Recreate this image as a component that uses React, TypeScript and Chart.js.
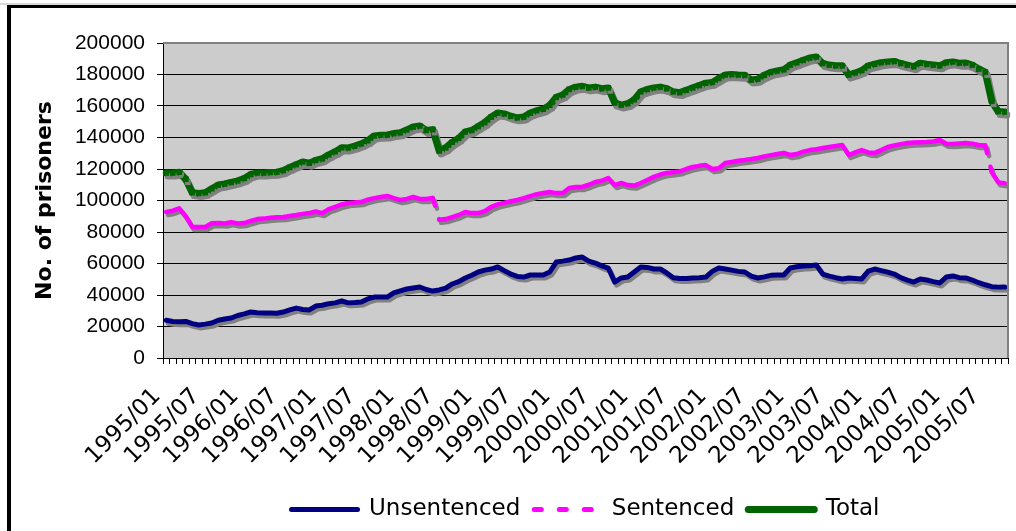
import React, { useEffect, useRef } from "react";
import { Chart, registerables } from "chart.js";

Chart.register(...registerables);

// Categories: monthly, 1995/01 .. 2005/10
const months: string[] = [];
for (let y = 1995; y <= 2005; y++) {
  for (let m = 1; m <= 12; m++) {
    if (y === 2005 && m > 10) break;
    months.push(`${y}/${String(m).padStart(2, "0")}`);
  }
}

const seriesNames = ["Unsentenced", "Sentenced", "Total"];

const unsentenced = [
  24000, 23200, 23000, 23200, 21800, 21000, 21500, 22200, 24000, 24800, 25400, 27000,
  28000, 29200, 28800, 28600, 28600, 28400, 29200, 30500, 31700, 30800, 30500, 33000,
  33500, 34500, 35000, 36200, 35000, 35200, 35600, 37500, 38700, 38800, 38700, 41300,
  42600, 43800, 44500, 45100, 43500, 42500, 43200, 44400, 47000, 48500, 50800, 52500,
  54600, 55800, 56500, 57800, 55500, 53300, 51800, 51400, 52700, 52700, 52700, 54600,
  60900, 61500, 62200, 63500, 64100, 61500, 60300, 58500, 57100, 48200, 50800, 51400,
  54600, 57800, 57500, 56500, 56500, 54000, 51000, 50500, 50500, 50800, 51000, 51400,
  55000, 57100, 56500, 55800, 55000, 54600, 52000, 50800, 51500, 52500, 52700, 52700,
  57100, 58000, 58400, 58600, 59000, 53300, 52000, 51000, 50200, 50800, 50500, 50200,
  55200, 56500, 55500, 54500, 53300, 51000, 49500, 48200, 50200, 49500, 48500, 47600,
  51400, 52100, 51000, 50800, 49500, 47800, 46500, 45300, 45000, 45100,
];

const sentenced = [
  92700, 93500, 95000, 90000, 83200, 83200, 83200, 85500, 85700, 85400, 86300, 85400,
  85700, 87000, 88200, 88500, 89000, 89300, 89500, 90200, 90800, 91500, 92000, 93000,
  92000, 94500, 96000, 97500, 98400, 98700, 99000, 100500, 101500, 102200, 102900, 101500,
  100300, 101000, 102200, 101000, 101000, 101600, 87800, 88200, 89500, 90800, 92700, 92000,
  92000, 93300, 96000, 97500, 98500, 99500, 100300, 101500, 102800, 104000, 104800, 105400,
  104700, 104800, 107900, 108600, 108600, 110000, 111700, 112500, 114300, 109800, 111100, 109800,
  109500, 111100, 113000, 115000, 116500, 117500, 118000, 118500, 120000, 121300, 122000, 122500,
  120000, 120500, 123800, 124500, 125200, 125700, 126300, 127000, 128000, 128800, 129500, 130200,
  128900, 129500, 131000, 132000, 132500, 133300, 134000, 134600, 135200, 128900, 130500, 132000,
  130500, 130200, 132000, 134000, 135000, 135800, 136500, 136800, 137000, 137100, 137500, 138400,
  136000, 135900, 136200, 136500, 136000, 135200, 135000, 118000, 111500, 111000,
];

const total = [
  117500, 117500, 118000, 113500, 105000, 104500, 105000, 107500, 109800, 110500, 111500, 112500,
  114000, 116500, 117500, 117500, 117800, 118000, 119000, 121000, 122800, 124500, 123700, 125500,
  126500, 129000, 131000, 133500, 133400, 134500, 136000, 138000, 141000, 141500, 141600, 142500,
  143000, 144800, 146700, 147300, 144500, 145000, 131500, 133500, 137000, 139500, 143500, 144500,
  147000, 149500, 153000, 155500, 155000, 153500, 152500, 153000, 155500, 157000, 158000, 160500,
  165500, 167000, 170500, 172000, 172500, 171500, 172000, 171000, 171500, 162000, 160600, 161500,
  164000, 169000, 170500, 171500, 172000, 171000, 169000, 168500, 170000, 171500, 173000, 174500,
  175000, 177500, 179700, 180000, 179700, 179500, 176500, 177000, 179500, 181300, 182200, 183000,
  186000, 187500, 189000, 190500, 191100, 187000, 186000, 185500, 185500, 179700, 181000, 182500,
  185500, 186500, 187500, 188000, 188300, 187000, 186000, 185000, 187200, 186500, 186000, 185500,
  187500, 188000, 187200, 187300, 186000, 183500, 181500, 163000, 156500, 156200,
];

const yTicksMax = 200000;
const yTickStep = 20000;

const NAVY = "#000080";
const MAGENTA = "#ff00ff";
const GREEN = "#006400";

const framePlugin = {
  id: "frame",
  beforeDraw(chart: any) {
    const { ctx, chartArea } = chart;
    const { left, top, right, bottom } = chartArea;
    ctx.save();
    ctx.fillStyle = "#ffffff";
    ctx.fillRect(0, 0, chart.width, chart.height);
    ctx.fillStyle = "#d8d8d8";
    ctx.fillRect(0, 3, chart.width, 2);
    ctx.fillStyle = "#000000";
    ctx.fillRect(7, 5, chart.width - 7, 3);
    ctx.fillRect(7, 5, 4, chart.height - 5);
    ctx.fillStyle = "#cccccc";
    ctx.fillRect(left, top, right - left, bottom - top);
    ctx.restore();
  },
  afterDraw(chart: any) {
    const { ctx, chartArea } = chart;
    const { left, top, right, bottom } = chartArea;
    ctx.save();
    ctx.strokeStyle = "#808080";
    ctx.lineWidth = 2;
    ctx.beginPath();
    ctx.moveTo(left, top);
    ctx.lineTo(right, top);
    ctx.lineTo(right, bottom);
    ctx.stroke();
    ctx.restore();
  },
};

const shadowPlugin = {
  id: "lineShadow",
  beforeDatasetDraw(chart: any) {
    const c = chart.ctx;
    c.save();
    c.shadowColor = "#808080";
    c.shadowOffsetX = 2;
    c.shadowOffsetY = 3;
    c.shadowBlur = 0;
  },
  afterDatasetDraw(chart: any) {
    chart.ctx.restore();
  },
};

export default function App() {
  const ref = useRef<HTMLCanvasElement>(null);

  useEffect(() => {
    if (!ref.current) return;
    const chart = new Chart(ref.current, {
      type: "line",
      data: {
        labels: months,
        datasets: [
          {
            label: seriesNames[0],
            data: unsentenced,
            borderColor: NAVY,
            backgroundColor: NAVY,
            borderWidth: 5,
            pointRadius: 0,
            tension: 0,
            borderJoinStyle: "round",
            borderCapStyle: "round",
          },
          {
            label: seriesNames[1],
            data: sentenced,
            borderColor: MAGENTA,
            backgroundColor: MAGENTA,
            borderWidth: 4.5,
            pointRadius: 0,
            tension: 0,
            borderJoinStyle: "round",
            borderCapStyle: "round",
            segment: {
              borderDash: (c: any) =>
                Math.hypot(c.p1.x - c.p0.x, c.p1.y - c.p0.y) > 16 ? [8, 14] : [],
            },
          },
          {
            label: seriesNames[2],
            data: total,
            borderColor: GREEN,
            backgroundColor: GREEN,
            borderWidth: 7,
            pointRadius: 4,
            pointStyle: "rect",
            pointBorderWidth: 0,
            pointBackgroundColor: GREEN,
            tension: 0,
            borderJoinStyle: "round",
            borderCapStyle: "round",
          },
        ],
      },
      options: {
        responsive: false,
        animation: false,
        devicePixelRatio: 1,
        layout: { padding: { left: 0, top: 43, right: 8, bottom: 0 } },
        plugins: {
          tooltip: { enabled: false },
          legend: {
            position: "bottom",
            fullSize: false,
            labels: {
              usePointStyle: true,
              pointStyleWidth: 66,
              padding: 14,
              color: "#000",
              font: { family: "'DejaVu Sans', Verdana, sans-serif", size: 23 },
              generateLabels: () => [
                {
                  text: seriesNames[0],
                  fillStyle: NAVY,
                  strokeStyle: NAVY,
                  lineWidth: 5,
                  lineCap: "round",
                  lineDash: [],
                  pointStyle: "line",
                  hidden: false,
                  datasetIndex: 0,
                  fontColor: "#000",
                },
                {
                  text: seriesNames[1],
                  fillStyle: MAGENTA,
                  strokeStyle: MAGENTA,
                  lineWidth: 5,
                  lineCap: "round",
                  lineDash: [7, 18],
                  pointStyle: "line",
                  hidden: false,
                  datasetIndex: 1,
                  fontColor: "#000",
                },
                {
                  text: seriesNames[2],
                  fillStyle: GREEN,
                  strokeStyle: GREEN,
                  lineWidth: 7,
                  lineCap: "round",
                  lineDash: [],
                  pointStyle: "line",
                  hidden: false,
                  datasetIndex: 2,
                  fontColor: "#000",
                },
              ],
            },
          },
        },
        scales: {
          x: {
            type: "category",
            offset: true,
            afterFit: (s: any) => {
              s.height = 126;
              s.paddingLeft = 0;
              s.paddingRight = 0;
            },
            grid: {
              display: true,
              drawOnChartArea: false,
              drawTicks: true,
              tickLength: 6,
              offset: true,
              color: "#000",
              tickColor: "#000",
            },
            border: { display: true, color: "#000", width: 1 },
            ticks: {
              autoSkip: false,
              maxRotation: 45,
              minRotation: 45,
              padding: 19,
              labelOffset: -9,
              color: "#000",
              font: { family: "'DejaVu Sans', Verdana, sans-serif", size: 23 },
              callback: (_v: any, i: number) => (i % 6 === 0 ? months[i] : ""),
            },
          },
          y: {
            min: 0,
            max: yTicksMax,
            afterFit: (s: any) => {
              s.width = 163;
            },
            grid: {
              color: (c: any) => (c.tick && c.tick.value === yTicksMax ? "#808080" : "#000"),
              lineWidth: 1,
              tickLength: 6,
              tickColor: "#000",
            },
            border: { display: true, color: "#000", width: 1 },
            ticks: {
              stepSize: yTickStep,
              padding: 12,
              color: "#000",
              font: { family: "'Liberation Sans', Arial, sans-serif", size: 21 },
              callback: (v: any) => String(v),
            },
            title: {
              display: true,
              text: "No. of prisoners",
              color: "#000",
              font: { family: "'DejaVu Sans', Verdana, sans-serif", size: 22, weight: "bold" },
              padding: { top: 32, bottom: 0 },
            },
          },
        },
      },
      plugins: [framePlugin, shadowPlugin],
    } as any);
    return () => chart.destroy();
  }, []);

  return (
    <div style={{ position: "fixed", left: 0, top: 0, width: 1016, height: 531, background: "#fff" }}>
      <canvas ref={ref} width={1016} height={531} style={{ display: "block", width: 1016, height: 531 }} />
    </div>
  );
}
